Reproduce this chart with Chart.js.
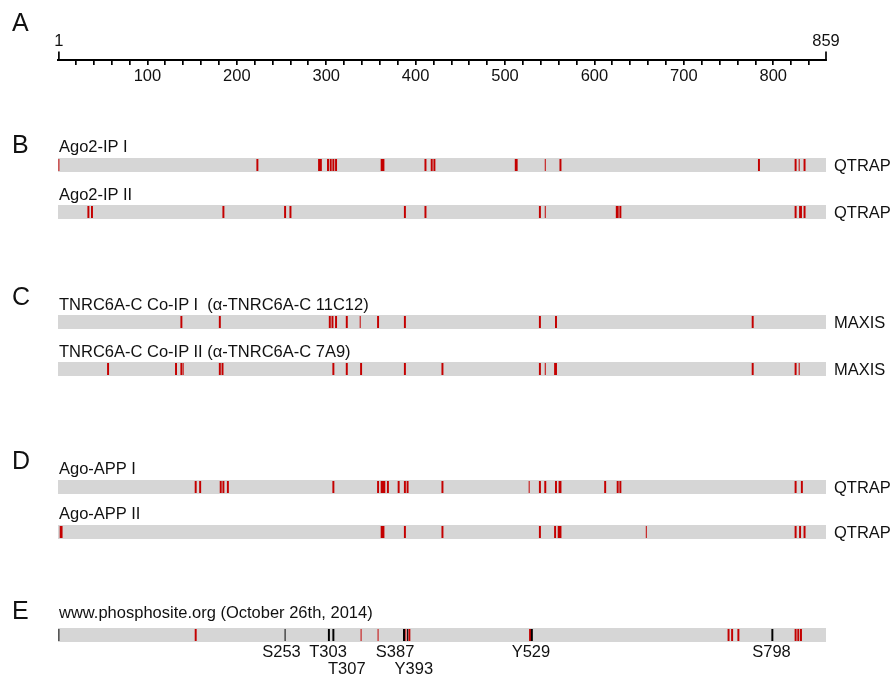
<!DOCTYPE html>
<html>
<head>
<meta charset="utf-8">
<script src="https://cdn.jsdelivr.net/npm/chart.js@4.4.0/dist/chart.umd.min.js"></script>
<style>
  body { margin: 0; background: #fff; }
  #wrap { position: relative; width: 892px; height: 677px; font-family: "Liberation Sans", Arial, sans-serif; color: #111; }
  #wrap canvas { position: absolute; left: 0; top: 0; }
  .lbl { position: absolute; font-size: 16.5px; line-height: 16px; white-space: pre; }
  .panel { position: absolute; font-size: 25px; line-height: 25px; }
</style>
</head>
<body>
<div id="wrap">
  <canvas id="seqChart" width="892" height="677"></canvas>
</div>
<script>
// protein length (residues)
const proteinLength = 859;
const rulerEnds = [1, 859];
const rulerLabels = [100, 200, 300, 400, 500, 600, 700, 800];

const ago2IpI      = [223, 292, 294, 302, 305, 308, 311, 362, 363, 364, 411, 418, 421, 512, 513, 562, 784, 825, 835];
const ago2IpIThin  = [1, 545, 829];
const ago2IpII     = [34, 38, 185, 254, 260, 388, 411, 539, 625, 626, 629, 825, 830, 831, 835];
const ago2IpIIThin = [545];
const tnrcI        = [138, 181, 304, 307, 311, 323, 358, 388, 539, 557, 777];
const tnrcIThin    = [338];
const tnrcII       = [56, 132, 138, 181, 184, 308, 323, 339, 388, 430, 539, 556, 557, 777, 825];
const tnrcIIThin   = [140, 545, 829];
const appI         = [154, 159, 182, 185, 190, 308, 358, 362, 363, 364, 365, 369, 381, 388, 391, 430, 539, 545, 557, 561, 562, 612, 626, 629, 825, 832];
const appIThin     = [527];
const appII        = [3, 4, 362, 363, 364, 388, 430, 539, 556, 560, 561, 562, 825, 830, 835];
const appIIThin    = [658];
// phosphosite.org: red = also found here, black = only in database
const siteRed      = [154, 393, 528, 750, 754, 761, 825, 828, 831];
const siteRedThin  = [339, 358, 389];
const siteBlack    = [303, 308, 387, 530, 799];
const siteBlackThin = [1, 254, 391];
const siteNames    = ['S253', 'T303', 'T307', 'S387', 'Y393', 'Y529', 'S798'];

// layout
const RULER_Y = 60;
const MARK_W = 2.2, THIN_W = 1.1;    // residues
const siteLabelAt  = [250, 302, 323, 377, 398, 529, 798];
const siteLabelRow = [0, 0, 1, 0, 1, 0, 0];

const tracks = [
  { row: 165, title: 'Ago2-IP I', top: 138.3, inst: 'QTRAP', red: ago2IpI, redThin: ago2IpIThin },
  { row: 212, title: 'Ago2-IP II', top: 185.6, inst: 'QTRAP', red: ago2IpII, redThin: ago2IpIIThin },
  { row: 322, title: 'TNRC6A-C Co-IP I  (α-TNRC6A-C 11C12)', top: 296.3, inst: 'MAXIS', red: tnrcI, redThin: tnrcIThin },
  { row: 369, title: 'TNRC6A-C Co-IP II (α-TNRC6A-C 7A9)', top: 343, inst: 'MAXIS', red: tnrcII, redThin: tnrcIIThin },
  { row: 487, title: 'Ago-APP I', top: 459.6, inst: 'QTRAP', red: appI, redThin: appIThin },
  { row: 532, title: 'Ago-APP II', top: 504.6, inst: 'QTRAP', red: appII, redThin: appIIThin },
  { row: 635, title: 'www.phosphosite.org (October 26th, 2014)', top: 604, inst: '', red: siteRed, redThin: siteRedThin, black: siteBlack, blackThin: siteBlackThin }
];
const panels = [['A', 9.8], ['B', 132.3], ['C', 284.3], ['D', 448.3], ['E', 598.3]];

// static labels
const wrap = document.getElementById('wrap');
const addLabel = (cls, text, left, top) => {
  const d = document.createElement('div');
  d.className = cls;
  d.textContent = text;
  d.style.left = left + 'px';
  d.style.top = top + 'px';
  wrap.appendChild(d);
};
panels.forEach(([t, top]) => addLabel('panel', t, 12, top));
tracks.forEach(t => {
  addLabel('lbl', t.title, 59, t.top);
  if (t.inst) addLabel('lbl', t.inst, 834, t.row - 7.8);
});

const marks = (key, w) => tracks.flatMap(t => (t[key] || []).map(r => ({ x: [r - w / 2, r + w / 2], y: t.row })));

const FONT = { family: '"Liberation Sans", Arial, sans-serif', size: 16.5 };

// endpoint ticks of the ruler + site names under the phosphosite track
const rulerPlugin = {
  id: 'ruler',
  afterDraw(chart) {
    const { ctx, scales: { x, y } } = chart;
    ctx.save();
    ctx.strokeStyle = '#000';
    ctx.lineWidth = 1.7;
    ctx.fillStyle = '#111';
    ctx.font = `${FONT.size}px ${FONT.family}`;
    ctx.textAlign = 'center';
    ctx.textBaseline = 'alphabetic';
    rulerEnds.forEach(v => {
      const px = x.getPixelForValue(v);
      ctx.beginPath();
      ctx.moveTo(px, y.getPixelForValue(RULER_Y + 1));
      ctx.lineTo(px, y.getPixelForValue(RULER_Y - 8.5));
      ctx.stroke();
      ctx.fillText(String(v), px, y.getPixelForValue(45.5));
    });
    siteNames.forEach((s, i) => {
      const px = x.getPixelForValue(siteLabelAt[i]);
      ctx.fillText(s, px, y.getPixelForValue(siteLabelRow[i] ? 674 : 656.5));
    });
    ctx.restore();
  }
};

const minorTicks = [];
for (let v = 20; v < proteinLength; v += 20) minorTicks.push(v);

new Chart(document.getElementById('seqChart'), {
  type: 'bar',
  data: {
    datasets: [
      { data: tracks.map(t => ({ x: [0, proteinLength], y: t.row })), backgroundColor: '#d6d6d6', barThickness: 14, maxBarThickness: 14, order: 10 },
      { data: marks('red', MARK_W), backgroundColor: '#c40000', barThickness: 12, maxBarThickness: 12, order: 3 },
      { data: marks('redThin', THIN_W), backgroundColor: '#c40000', barThickness: 12, maxBarThickness: 12, order: 3 },
      { data: marks('black', MARK_W), backgroundColor: '#000', barThickness: 12, maxBarThickness: 12, order: 1 },
      { data: marks('blackThin', THIN_W), backgroundColor: '#000', barThickness: 12, maxBarThickness: 12, order: 1 }
    ]
  },
  options: {
    indexAxis: 'y',
    responsive: false,
    animation: false,
    grouped: false,
    inflateAmount: 0,
    borderWidth: 0,
    layout: { padding: { left: 58, right: 66, top: 0, bottom: 0 } },
    plugins: { legend: { display: false }, tooltip: { enabled: false } },
    scales: {
      y: { type: 'linear', min: 0, max: 677, reverse: true, offset: false, display: false },
      x: {
        type: 'linear', min: 0, max: proteinLength,
        position: { y: RULER_Y },
        border: { display: true, color: '#000', width: 2 },
        grid: { drawOnChartArea: false, drawTicks: true, tickLength: 4, color: '#000', lineWidth: 1.7 },
        afterBuildTicks: s => { s.ticks = minorTicks.map(v => ({ value: v })); },
        ticks: {
          autoSkip: false, maxRotation: 0, padding: 3, color: '#111', font: FONT,
          callback: v => rulerLabels.includes(v) ? String(v) : ''
        }
      }
    }
  },
  plugins: [rulerPlugin]
});
</script>
</body>
</html>
